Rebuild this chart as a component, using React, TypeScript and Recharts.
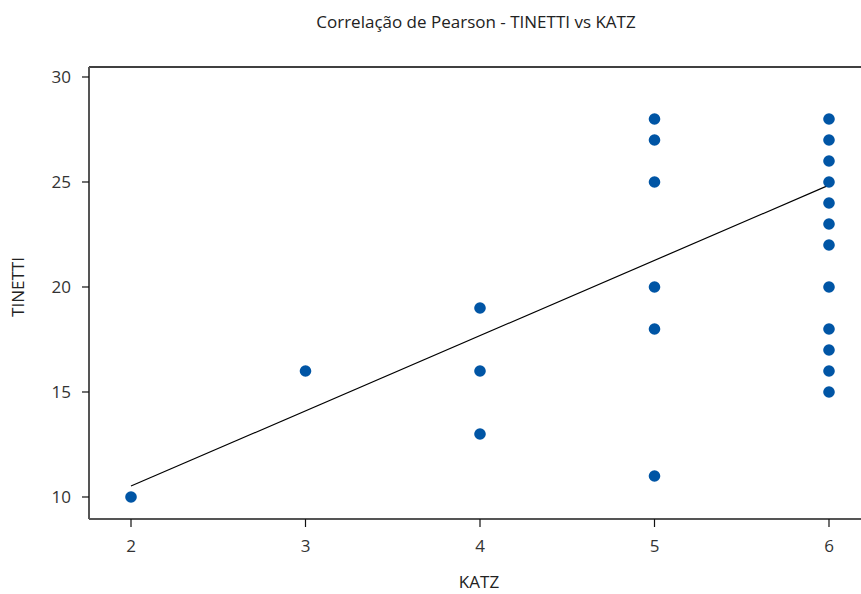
import React from "react";
import { ScatterChart, Scatter, XAxis, YAxis, ReferenceLine } from "recharts";

const katz = [2, 3, 4, 4, 4, 5, 5, 5, 5, 5, 5, 6, 6, 6, 6, 6, 6, 6, 6, 6, 6, 6, 6];
const tinetti = [10, 16, 19, 16, 13, 28, 27, 25, 20, 18, 11, 28, 27, 26, 25, 24, 23, 22, 20, 18, 17, 16, 15];
const fitX = [2, 6];
const fitY = [10.52, 24.85];
const xTicks = [2, 3, 4, 5, 6];
const yTicks = [10, 15, 20, 25, 30];

const points = katz.map((k, i) => ({ x: k, y: tinetti[i] }));
const fitSegment = fitX.map((x, i) => ({ x, y: fitY[i] }));

const FONT = "'Open Sans', Lato, sans-serif";

export default function App() {
  return (
    <div style={{ position: "absolute", left: 0, top: 0 }}>
      <ScatterChart width={861} height={594} margin={{ top: 67, right: 0, bottom: 35, left: 29 }}>
        <text x={476} y={28} textAnchor="middle" fontFamily={FONT} fontSize={17} fill="#222">
          Correlação de Pearson - TINETTI vs KATZ
        </text>
        <text x={479} y={588} textAnchor="middle" fontFamily={FONT} fontSize={17} fill="#222">
          KATZ
        </text>
        <text
          x={0}
          y={0}
          transform="translate(24, 287) rotate(-90)"
          textAnchor="middle"
          fontFamily={FONT}
          fontSize={17}
          fill="#222"
        >
          TINETTI
        </text>
        <XAxis
          type="number"
          dataKey="x"
          domain={[1.7593, 6.1834]}
          ticks={xTicks}
          allowDataOverflow
          height={40}
          tickSize={8}
          tickMargin={13}
          stroke="#555"
          strokeWidth={2}
          tickLine={{ stroke: "#111", strokeWidth: 1.2 }}
          tick={{ fill: "#333", fontSize: 17, fontFamily: FONT }}
        />
        <YAxis
          type="number"
          dataKey="y"
          domain={[8.952, 30.476]}
          ticks={yTicks}
          allowDataOverflow
          width={60}
          tickSize={7}
          tickMargin={11}
          stroke="#555"
          strokeWidth={2}
          tickLine={{ stroke: "#111", strokeWidth: 1.2 }}
          tick={{ fill: "#333", fontSize: 17, fontFamily: FONT }}
        />
        <ReferenceLine y={30.476} stroke="#000" strokeWidth={1.5} />
        <ReferenceLine segment={fitSegment} stroke="#000" strokeWidth={1.2} />
        <Scatter
          data={points}
          fill="#0055A5"
          isAnimationActive={false}
          shape={(p: any) => <circle cx={p.cx} cy={p.cy} r={5.8} fill="#0055A5" />}
        />
      </ScatterChart>
    </div>
  );
}
